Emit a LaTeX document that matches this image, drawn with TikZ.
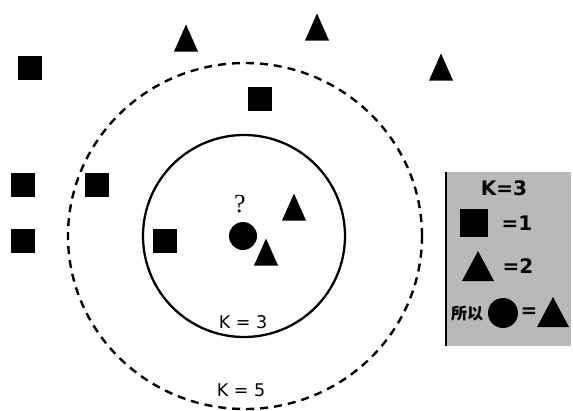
\documentclass[tikz,border=0pt]{standalone}
\usepackage{fontspec}
\setmainfont{DejaVu Sans}
\newfontfamily\cjk{Noto Sans CJK SC}
\newfontfamily\qfont{Liberation Serif}
\usetikzlibrary{shapes.geometric}
\begin{document}
\begin{tikzpicture}[x=1pt,y=-1pt,
  sq/.style={rectangle, fill=black, minimum size=24pt, inner sep=0pt},
  bigsq/.style={rectangle, fill=black, minimum size=28pt, inner sep=0pt},
  dot/.style={circle, fill=black, minimum size=28pt, inner sep=0pt},
  lbl/.style={font=\fontsize{17.5}{20}\selectfont, inner sep=0pt},
  leg/.style={font=\bfseries\fontsize{20}{22}\selectfont, inner sep=0pt},
  tri/.pic={\fill[black] (0,-13.5) -- (12,13.5) -- (-12,13.5) -- cycle;},
  bigtri/.pic={\fill[black] (0,-15) -- (16,15) -- (-16,15) -- cycle;}
]
\useasboundingbox (0,0) rectangle (573,410);
% circles
\node[circle, draw, line width=2.3pt, minimum size=202pt, inner sep=0pt] (k3) at (244,236) {};
\node[ellipse, draw, line width=2.4pt, dash pattern=on 8pt off 6pt,
      minimum width=354pt, minimum height=346pt, inner sep=0pt] (k5) at (245,236) {};
\node[lbl] (k3t) at (243,322) {K = 3};
\node[lbl] (k5t) at (241,390) {K = 5};
% squares
\node[sq] (s1) at (30,68) {};
\node[sq] (s2) at (260,99) {};
\node[sq] (s3) at (23,185) {};
\node[sq] (s4) at (97,185) {};
\node[sq] (s5) at (23,241) {};
\node[sq] (s6) at (165,241) {};
% triangles
\pic (t1) at (186,38) {tri};
\pic (t2) at (317,27) {tri};
\pic (t3) at (441,67) {tri};
\pic (t4) at (294,207) {tri};
\pic (t5) at (266,252) {tri};
% query point
\node[dot] (q) at (243,236) {};
\node[font=\qfont\fontsize{26}{28}\selectfont, inner sep=0pt] (qm) at (240,204) {?};
% legend
\node[rectangle, fill=gray!55, minimum width=125pt, minimum height=174pt, inner sep=0pt, anchor=north west] (legbox) at (446,172) {};
\draw[line width=1.5pt] (legbox.north west) -- (legbox.south west);
\node[leg] (lk) at (504,188) {K=3};
\node[bigsq] (ls) at (474,223) {};
\node[leg] (l1) at (517,223) {=1};
\pic (lt) at (478,266) {bigtri};
\node[leg] (l2) at (518,266) {=2};
\node[font=\cjk\bfseries\fontsize{16}{18}\selectfont, inner sep=0pt] (lso) at (467,314) {所以};
\node[dot, minimum size=30pt] (lc) at (503,313) {};
\node[leg] (leq) at (529,313) {=};
\pic (lt2) at (553,312) {bigtri};
\end{tikzpicture}
\end{document}
